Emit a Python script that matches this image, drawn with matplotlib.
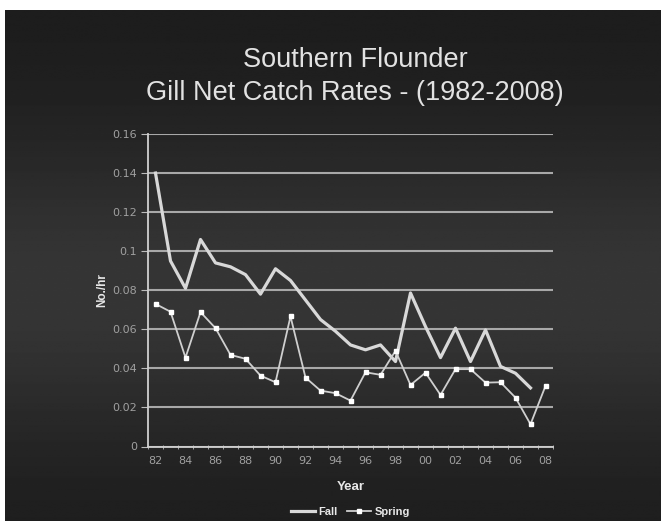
import matplotlib.pyplot as plt
import numpy as np

years = list(range(1982, 2009))
year_labels = ['82', '84', '86', '88', '90', '92', '94', '96', '98', '00', '02', '04', '06', '08']

fall = [0.140, 0.095, 0.081, 0.106, 0.094, 0.092, 0.088, 0.078, 0.091, 0.085,
        0.075, 0.065, 0.059, 0.052, 0.0495, 0.052, 0.0435, 0.0786, 0.0614, 0.0455,
        0.0606, 0.0435, 0.0597, 0.041, 0.0375, 0.030, None]
spring = [0.073, 0.069, 0.0455, 0.0688, 0.0606, 0.0469, 0.0449, 0.0363, 0.0329, 0.0666,
          0.0353, 0.0286, 0.0273, 0.0235, 0.038, 0.0367, 0.049, 0.0315, 0.0378, 0.0264,
          0.0396, 0.0396, 0.0327, 0.0329, 0.025, 0.0114, 0.031]

W, H = 661, 521
fig = plt.figure(figsize=(W / 100, H / 100), dpi=100)
fig.patch.set_facecolor('white')

# dark panel with a soft vertical gradient
bg = fig.add_axes([5 / W, 0, 1 - 5 / W, 1 - 10 / H])
t = np.linspace(0, 1, 300)
shade = 0.11 + 0.10 * np.exp(-((t - 0.55) / 0.3) ** 2)
grad = np.tile(shade[:, None], (1, 2))
bg.imshow(grad, cmap='gray', vmin=0, vmax=1, aspect='auto', extent=[0, 1, 1, 0])
bg.set_axis_off()

# plot area: x 148..553, y 134..446 (pixels)
ax = fig.add_axes([148 / W, 1 - 446.5 / H, (553 - 148) / W, (446.5 - 134) / H])
ax.set_facecolor('none')

x = np.arange(len(years))
fx = [i for i, v in zip(x, fall) if v is not None]
fy = [v for v in fall if v is not None]
ax.plot(fx, fy, color='#d8d8d8', lw=2.3, zorder=3)
ax.plot(x, spring, color='#cfcfcf', lw=1.3, marker='s', ms=3.5,
        mfc='white', mec='white', zorder=3)

ax.set_xlim(-0.5, len(years) - 0.5)
ax.set_ylim(0, 0.16)
yt = [0, 0.02, 0.04, 0.06, 0.08, 0.1, 0.12, 0.14, 0.16]
ax.set_yticks(yt)
ax.set_yticklabels(['0', '0.02', '0.04', '0.06', '0.08', '0.1', '0.12', '0.14', '0.16'])
ax.yaxis.grid(True, color='#a8a8a8', lw=1.5)
ax.set_axisbelow(True)

ax.set_xticks(x[::2])
ax.set_xticklabels(year_labels)
ax.set_xticks(np.arange(len(years) + 1) - 0.5, minor=True)
ax.tick_params(axis='x', which='major', length=0, pad=7, labelsize=8, labelcolor='#a0a0a0')
ax.tick_params(axis='x', which='minor', length=3, direction='inout', color='#bbbbbb')
ax.tick_params(axis='y', length=5, color='#bbbbbb', labelsize=8, labelcolor='#a0a0a0', pad=3)

for s in ['top', 'right']:
    ax.spines[s].set_visible(False)
ax.spines['left'].set_color('#d0d0d0')
ax.spines['bottom'].set_color('#d0d0d0')
ax.spines['left'].set_linewidth(1.3)
ax.spines['bottom'].set_linewidth(1.3)

ax.set_xlabel('Year', fontsize=9.5, fontweight='bold', color='#e8e8e8',
              family='Liberation Sans', labelpad=11)
ax.set_ylabel('No./hr', fontsize=8.5, fontweight='bold', color='#e8e8e8',
              family='Liberation Sans', labelpad=3)

fig.text(355 / W, 1 - 60 / H, 'Southern Flounder', ha='center', va='center',
         fontsize=19.5, color='#e2e2e2', family='Liberation Sans')
fig.text(355 / W, 1 - 93 / H, 'Gill Net Catch Rates - (1982-2008)', ha='center', va='center',
         fontsize=19.5, color='#e2e2e2', family='Liberation Sans')

leg = ax.legend(['Fall', 'Spring'], loc='center', bbox_to_anchor=(0.5, -0.21),
                ncol=2, frameon=False, handlelength=2.2, handletextpad=0.3,
                columnspacing=0.8, prop={'family': 'Liberation Sans', 'weight': 'bold', 'size': 8})
for txt in leg.get_texts():
    txt.set_color('#e8e8e8')

plt.savefig('out.png', dpi=100, facecolor=fig.get_facecolor())
